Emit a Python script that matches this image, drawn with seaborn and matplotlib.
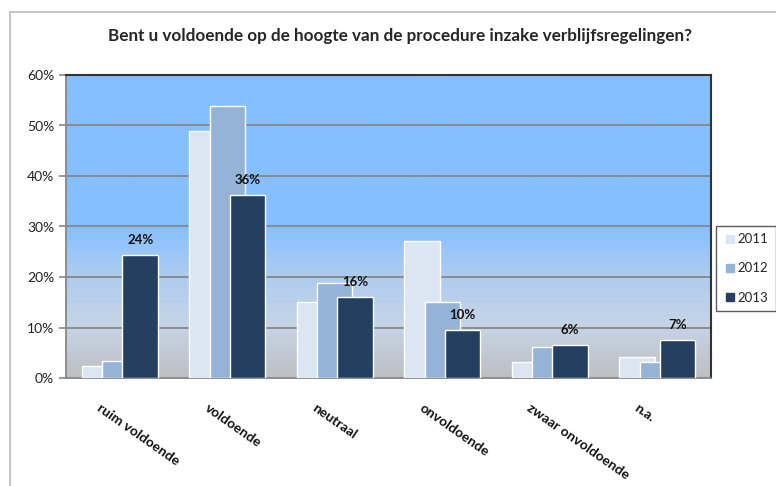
import numpy as np
import pandas as pd
import matplotlib.pyplot as plt
import matplotlib.lines as mlines
import matplotlib.transforms as mtrans
from matplotlib.colors import LinearSegmentedColormap
import seaborn as sns

# Data
categories = ['ruim voldoende', 'voldoende', 'neutraal', 'onvoldoende',
              'zwaar onvoldoende', 'n.a.']
years = ['2011', '2012', '2013']
values_2011 = [2.4, 48.9, 15.0, 27.2, 3.2, 4.1]
values_2012 = [3.3, 53.8, 18.9, 15.0, 6.1, 3.2]
values_2013 = [24.4, 36.2, 16.0, 9.5, 6.5, 7.5]
labels_2013 = ['24%', '36%', '16%', '10%', '6%', '7%']

colors = {'2011': '#DCE6F2', '2012': '#95B3D7', '2013': '#243F60'}
offsets = {'2011': -0.19, '2012': 0.0, '2013': 0.19}

rows = []
for year, vals in zip(years, [values_2011, values_2012, values_2013]):
    for i, (cat, v) in enumerate(zip(categories, vals)):
        rows.append({'category': cat, 'idx': i, 'year': year, 'value': v,
                     'pos': i + offsets[year]})
df = pd.DataFrame(rows)

sns.set_style('white')
plt.rcParams['font.family'] = ['Lato', 'DejaVu Sans']

fig = plt.figure(figsize=(7.76, 4.86), dpi=100)
ax = fig.add_axes([66 / 776, 1 - 378 / 486, (711 - 66) / 776, (378 - 75) / 486])

# Background gradient of the plot area (blue on top, grey at the bottom)
cmap = LinearSegmentedColormap.from_list(
    'bg', [(0.0, '#BEBFC2'), (0.17, '#C6D4E6'), (0.33, '#AFCDEF'),
           (0.5, '#86BFFF'), (1.0, '#86BFFF')])
grad = np.linspace(0, 1, 256).reshape(-1, 1)
ax.imshow(grad, cmap=cmap, origin='lower', extent=[0, 1, 0, 1],
          transform=ax.transAxes, aspect='auto', zorder=0)

# Grid lines
for yv in range(10, 60, 10):
    ax.axhline(yv, color='#878787', lw=1.3, zorder=1)

# Overlapping bars, one layer per year
for year in years:
    sub = df[df['year'] == year]
    sns.barplot(data=sub, x='pos', y='value', native_scale=True, width=0.33,
                color=colors[year], saturation=1, edgecolor='white',
                linewidth=1, ax=ax, zorder=3 + years.index(year))

# Value labels on the 2013 bars
sub13 = df[df['year'] == '2013']
for (_, r), lab in zip(sub13.iterrows(), labels_2013):
    ax.text(r['pos'], r['value'] + 1.8, lab, ha='center', va='bottom',
            fontsize=9.5, fontweight='bold', color='#111111', zorder=10)

ax.set_xlim(-0.5, len(categories) - 0.5)
ax.set_ylim(0, 60)
ax.set_yticks(range(0, 70, 10))
ax.set_yticklabels([f'{v}%' for v in range(0, 70, 10)], fontsize=10,
                   color='#222222')
ax.set_xticks(range(len(categories)))
ax.set_xticklabels(categories, rotation=-35, ha='left', rotation_mode='anchor',
                   fontsize=10, fontweight='bold', color='#111111')
ax.set_xticks(np.arange(-0.5, len(categories), 1), minor=True)
ax.tick_params(axis='x', which='major', length=0, pad=17)
ax.tick_params(axis='x', which='minor', length=5, color='#878787', width=1.2)
ax.tick_params(axis='y', length=5, color='#878787', width=1.2, left=True)
ax.set_xlabel('')
ax.set_ylabel('')

for side in ['left', 'bottom']:
    ax.spines[side].set_color('#878787')
    ax.spines[side].set_linewidth(1.3)
for side in ['top', 'right']:
    ax.spines[side].set_visible(True)
    ax.spines[side].set_color('#333333')
    ax.spines[side].set_linewidth(1.5)

# Shift category labels slightly to the left like the reference
shift = mtrans.ScaledTranslation(-18 / 100, 0, fig.dpi_scale_trans)
for lab in ax.get_xticklabels():
    lab.set_transform(lab.get_transform() + shift)

# Legend
handles = [plt.Line2D([], [], marker='s', ls='', markersize=6,
                      markerfacecolor=colors[y], markeredgecolor=colors[y],
                      label=y) for y in years]
leg = fig.legend(handles=handles, loc='upper left',
                 bbox_to_anchor=(716 / 776, 1 - 226 / 486), frameon=True,
                 fontsize=9.5, handletextpad=0.1, labelspacing=1.3,
                 borderpad=0.55, borderaxespad=0, handlelength=1.0,
                 fancybox=False)
leg.get_frame().set_edgecolor('#333333')
leg.get_frame().set_linewidth(1.0)

fig.suptitle('Bent u voldoende op de hoogte van de procedure inzake '
             'verblijfsregelingen?', x=400 / 776, y=1 - 28 / 486,
             fontsize=12.3, fontweight='bold', va='top')

# Outer chart border (left and top edges visible)
fig.add_artist(mlines.Line2D([10 / 776, 10 / 776], [0, 1 - 12 / 486],
                             transform=fig.transFigure, color='#BBBBBB', lw=1.2))
fig.add_artist(mlines.Line2D([10 / 776, 1], [1 - 12 / 486, 1 - 12 / 486],
                             transform=fig.transFigure, color='#BBBBBB', lw=1.2))

fig.savefig('out.png', dpi=100)
